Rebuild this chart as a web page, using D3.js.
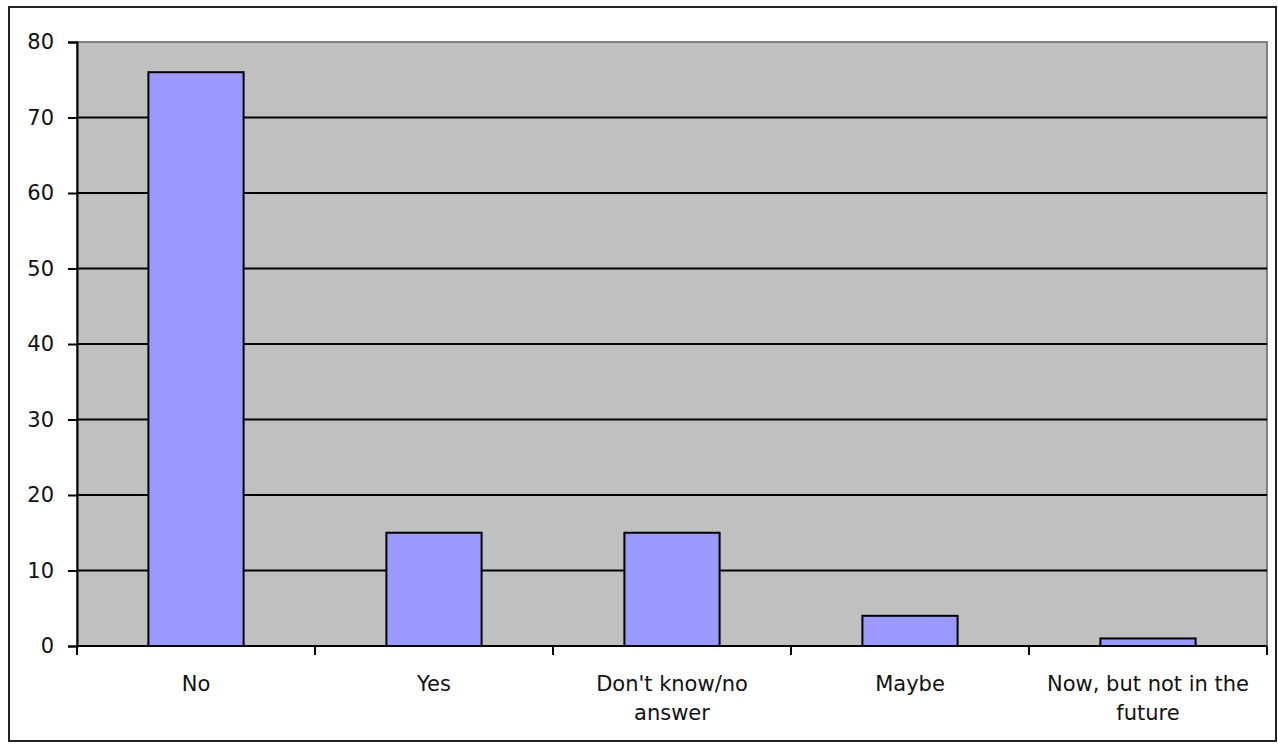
<!DOCTYPE html>
<html><head><meta charset="utf-8">
<script src="https://cdn.jsdelivr.net/npm/d3@7"></script>
<style>
html,body{margin:0;padding:0;background:#fff;}
svg{display:block;}
text{font-family:"DejaVu Sans",Verdana,sans-serif;font-size:21px;fill:#111;}
</style></head>
<body>
<svg id="chart" width="1278" height="745"></svg>
<script>
const categories = ["No", "Yes", "Don't know/no answer", "Maybe", "Now, but not in the future"];
const categoryLines = [["No"], ["Yes"], ["Don't know/no", "answer"], ["Maybe"], ["Now, but not in the", "future"]];
const values = [76, 15, 15, 4, 1];
const yTicks = [0, 10, 20, 30, 40, 50, 60, 70, 80];

(function () {
const svg = d3.select("#chart");
const pLeft = 77, pRight = 1267, pTop = 42, pBottom = 646;

// outer frame
svg.append("rect").attr("x", 9).attr("y", 7).attr("width", 1267).attr("height", 734)
  .attr("fill", "#fff").attr("stroke", "#222").attr("stroke-width", 2);

const x = d3.scaleBand().domain(categories).range([pLeft, pRight]).paddingInner(0.6).paddingOuter(0.3);
const xb = d3.scaleBand().domain(categories).range([pLeft, pRight]).padding(0);
const y = d3.scaleLinear().domain([0, 80]).range([pBottom, pTop]);

// plot area
svg.append("rect").attr("x", pLeft).attr("y", pTop).attr("width", pRight - pLeft).attr("height", pBottom - pTop)
  .attr("fill", "#c0c0c0").attr("stroke", "#808080").attr("stroke-width", 2);

// gridlines
svg.append("g").selectAll("line").data(yTicks.filter(d => d > 0 && d < 80)).join("line")
  .attr("x1", pLeft).attr("x2", pRight).attr("y1", d => y(d)).attr("y2", d => y(d))
  .attr("stroke", "#000").attr("stroke-width", 2);

// bars
svg.append("g").selectAll("rect").data(values).join("rect")
  .attr("x", (d, i) => x(categories[i]))
  .attr("width", x.bandwidth())
  .attr("y", d => y(d))
  .attr("height", d => y(0) - y(d))
  .attr("fill", "#9999ff").attr("stroke", "#000").attr("stroke-width", 2);

// y axis
const yAxis = d3.axisLeft(y).tickValues(yTicks).tickSize(9).tickPadding(14);
const gy = svg.append("g").attr("transform", `translate(${pLeft},0)`).call(yAxis);
gy.select(".domain").attr("stroke", "#000").attr("stroke-width", 2);
gy.selectAll(".tick line").attr("stroke", "#000").attr("stroke-width", 2);
gy.selectAll(".tick text").attr("font-size", 21).attr("font-family", "DejaVu Sans").attr("fill", "#111");

// x axis with ticks at category boundaries
const gx = svg.append("g").attr("transform", `translate(0,${pBottom})`);
gx.append("line").attr("x1", pLeft).attr("x2", pRight).attr("y1", 0).attr("y2", 0)
  .attr("stroke", "#000").attr("stroke-width", 2);
const bounds = categories.map(c => xb(c)).concat([pRight]);
gx.selectAll("line.t").data(bounds).join("line").attr("class", "t")
  .attr("x1", d => d).attr("x2", d => d).attr("y1", 0).attr("y2", 9)
  .attr("stroke", "#000").attr("stroke-width", 2);

// x labels
const lbl = svg.append("g");
categories.forEach((c, i) => {
  const cx = xb(c) + xb.bandwidth() / 2;
  const t = lbl.append("text").attr("text-anchor", "middle").attr("x", cx).attr("y", 691);
  categoryLines[i].forEach((ln, j) => {
    t.append("tspan").attr("x", cx).attr("dy", j === 0 ? 0 : 29).text(ln);
  });
});
})();
</script>
</body></html>
